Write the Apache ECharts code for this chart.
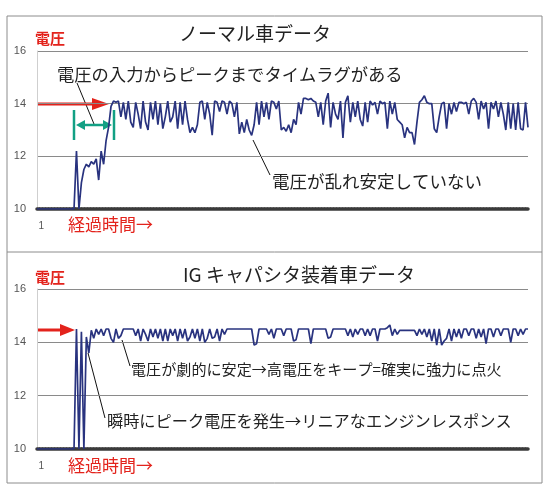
<!DOCTYPE html>
<html><head><meta charset="utf-8">
<script src="https://cdn.jsdelivr.net/npm/echarts@6/dist/echarts.min.js"></script>
<style>html,body{margin:0;padding:0;background:#fff}#c{width:550px;height:500px}</style>
</head><body><div id="c"></div>
<script>
const yTicks = [10, 12, 14, 16];
const normalTitle = 'ノーマル車データ';
const igTitle = 'IG キャパシタ装着車データ';
const axisName = '電圧';
const timeName = '経過時間→';

const normalData = [
10,10,10,10,10,10,10,10,10,10,10,10,10,10,10,10,
12.2,10,11.0,11.5,11.7,11.6,11.8,11.7,11.9,11.1,12.2,11.7,12.6,13.1,13.9,14.1,
14.05,14.1,13.5,14.05,13.4,14.1,13.3,13.1,14.05,13.6,13.05,14.1,13.3,13.0,14.05,13.4,14.1,13.2,
14.0,13.05,13.5,14.1,13.3,13.5,14.1,13.05,14.05,13.2,
14.1,13.4,12.9,13.1,12.9,13.2,14.05,14.1,13.4,14.05,
13.6,12.8,14.1,14.05,13.7,14.1,14.05,13.6,14.1,14.0,
13.5,14.05,12.85,13.3,12.9,13.4,13.0,12.8,13.2,14.05,
13.2,14.1,13.5,14.05,13.4,14.1,14.05,13.8,14.1,13.0,
13.1,12.95,13.2,12.9,13.4,13.2,14.05,13.6,14.2,14.2,
14.15,14.2,14.1,14.05,13.5,14.05,13.2,14.1,14.4,13.1,
14.05,13.6,13.4,14.1,12.7,14.05,14.3,13.3,14.05,13.5,
14.1,13.4,13.15,14.05,13.3,14.1,13.95,14.05,13.6,14.1,
14.0,14.05,13.05,14.1,13.6,14.05,13.4,13.3,13.2,12.7,
13.1,12.9,12.9,12.45,13.3,14.05,14.15,14.3,14.05,14.0,
14.0,13.05,12.9,13.5,14.0,14.05,13.05,14.0,13.6,14.05,
13.7,14.05,14.05,14.0,14.05,13.6,14.1,14.2,14.05,13.4,
14.1,13.8,14.05,13.05,14.05,13.8,14.1,13.5,14.05,13.6,
13.0,14.05,13.05,14.0,13.0,14.05,13.05,13.0,14.05,13.1
];

const igData = [
10,10,10,10,10,10,10,10,10,10,10,10,10,10,10,10,
14.5,10,14.4,10,14.2,13.6,14.45,14.15,14.5,
14.3,14.5,14.25,14.5,14.5,14.15,14.0,14.5,14.15,14.25,
14.5,14.5,14.5,14.5,14.5,14.25,14.5,14.05,14.5,14.3,
14.05,14.5,14.2,14.5,14.15,14.5,14.05,14.5,14.05,14.5,
14.25,14.5,14.05,14.5,14.15,14.5,14.05,14.2,14.5,14.15,
14.5,14.05,14.5,14.0,14.15,14.5,14.15,14.2,14.5,14.05,
14.5,14.3,14.5,14.5,14.5,14.5,14.5,14.5,14.5,14.5,
14.5,14.5,14.5,13.9,13.95,14.5,14.5,14.5,14.5,14.3,
14.5,14.15,14.5,14.5,14.5,14.25,14.5,14.5,14.5,14.05,
14.1,14.5,14.5,14.5,14.5,14.5,13.95,14.5,14.5,14.5,
14.5,14.5,14.5,14.15,14.2,14.5,14.5,14.5,14.5,14.5,
14.5,14.25,14.5,14.2,14.5,14.3,14.5,14.5,14.25,14.5,
14.25,14.5,14.5,14.05,14.5,14.5,14.5,14.55,14.65,14.25,
14.5,14.3,14.45,14.45,14.45,14.45,14.45,14.45,14.45,14.25,
14.5,14.3,14.5,14.2,14.5,14.05,14.5,13.9,14.5,13.9,
14.05,14.15,14.5,14.05,14.5,14.2,14.5,14.15,14.5,14.5,
14.25,14.5,14.5,14.15,14.5,14.2,14.5,13.95,14.5,14.5,
14.2,14.5,14.5,14.25,14.5,14.5,14.5,14.0,14.5,14.5,
14.25,14.5,14.3,14.5,14.5
];

const categories = normalData.map((_, i) => String(i + 1));

const FONT = '"Noto Sans CJK JP", "Noto Sans", sans-serif';
const NUMFONT = '"Liberation Sans", Arial, sans-serif';
const RED = '#e3231c';
const NAVY = '#29337f';
const GREEN = '#12a084';

function xAxis(gi) {
  return {
    type: 'category', gridIndex: gi, data: categories, boundaryGap: false,
    axisLine: { show: true, lineStyle: { color: '#3a3a3a', width: 3.5, type: [2, 1] } },
    axisTick: { show: false },
    axisLabel: { interval: 0, margin: 12, color: '#555', fontSize: 10, fontFamily: NUMFONT,
      formatter: (v, i) => (i === 0 ? '   1' : '') },
    splitLine: { show: false }
  };
}
function yAxis(gi) {
  return {
    type: 'value', gridIndex: gi, min: yTicks[0], max: yTicks[yTicks.length - 1], interval: 2,
    axisLine: { show: true, lineStyle: { color: '#cfcfcf' } },
    axisTick: { show: false },
    axisLabel: { color: '#555', fontSize: 11, fontFamily: NUMFONT, margin: 11 },
    splitLine: { show: true, lineStyle: { color: '#8a8a8a', width: 1 } }
  };
}
function txt(x, y, s, size, color, align, weight) {
  return { type: 'text', x: x, y: y, style: { text: s, fill: color, font: (weight || 'normal') + ' ' + size + 'px ' + FONT, textAlign: align || 'left', textVerticalAlign: 'middle' } };
}
function line(x1, y1, x2, y2, color, w) {
  return { type: 'line', shape: { x1, y1, x2, y2 }, style: { stroke: color, lineWidth: w } };
}
function tri(points, color) {
  return { type: 'polygon', shape: { points }, style: { fill: color } };
}

const chart = echarts.init(document.getElementById('c'), null, { renderer: 'canvas' });
chart.setOption({
  animation: false,
  backgroundColor: '#fff',
  grid: [
    { left: 37, top: 51, width: 491, height: 158 },
    { left: 37, top: 289, width: 491, height: 160 }
  ],
  xAxis: [xAxis(0), xAxis(1)],
  yAxis: [yAxis(0), yAxis(1)],
  series: [
    { type: 'line', xAxisIndex: 0, yAxisIndex: 0, data: normalData, showSymbol: false, symbol: 'none',
      lineStyle: { color: NAVY, width: 1.7 }, z: 3 },
    { type: 'line', xAxisIndex: 1, yAxisIndex: 1, data: igData, showSymbol: false, symbol: 'none',
      lineStyle: { color: NAVY, width: 1.7 }, z: 3 }
  ],
  graphic: [
    { type: 'rect', shape: { x: 7, y: 16, width: 535, height: 467 }, style: { fill: 'none', stroke: '#8c8c8c', lineWidth: 1 } },
    line(7, 252, 542, 252, '#8c8c8c', 1),
    // top panel texts
    txt(35, 38, axisName, 15, RED, 'left', 'bold'),
    txt(255, 34, normalTitle, 19, '#222', 'center'),
    txt(57, 74, '電圧の入力からピークまでタイムラグがある', 17.3, '#222', 'left'),
    txt(272, 181, '電圧が乱れ安定していない', 17.5, '#222', 'left'),
    txt(68, 225, timeName, 17, RED, 'left'),
    // top leader lines
    line(77, 83, 94, 124, '#111', 1),
    line(253, 140, 270, 175, '#111', 1),
    // top red arrow
    line(37, 104, 94, 104, RED, 3),
    tri([[92, 98], [109, 104], [92, 110]], RED),
    // green double arrow
    line(74, 110, 74, 140, GREEN, 2.5),
    line(114, 110, 114, 140, GREEN, 2.5),
    line(82, 125, 106, 125, GREEN, 2.5),
    tri([[76, 125], [85, 120], [85, 130]], GREEN),
    tri([[112, 125], [103, 120], [103, 130]], GREEN),
    // bottom panel texts
    txt(35, 277, axisName, 15, RED, 'left', 'bold'),
    txt(299, 275, igTitle, 19, '#222', 'center'),
    txt(131, 369, '電圧が劇的に安定→高電圧をキープ=確実に強力に点火', 15.1, '#222', 'left'),
    txt(107, 421, '瞬時にピーク電圧を発生→リニアなエンジンレスポンス', 16.2, '#222', 'left'),
    txt(68, 466, timeName, 17, RED, 'left'),
    line(122, 340, 130, 366, '#111', 1),
    line(88, 353, 105, 418, '#111', 1),
    // bottom red arrow
    line(37, 330, 62, 330, RED, 3),
    tri([[60, 324], [75, 330], [60, 336]], RED)
  ]
});
</script></body></html>
